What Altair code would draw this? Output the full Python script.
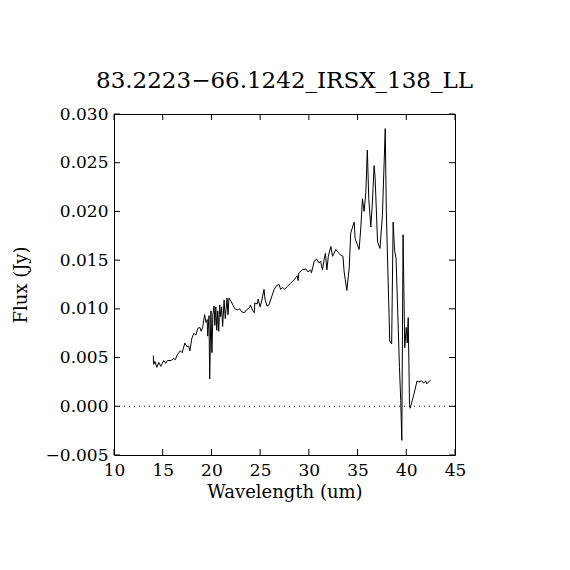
import altair as alt
import pandas as pd

wavelength = [
    14.03, 14.07, 14.2, 14.4, 14.6, 14.8, 15.1, 15.3, 15.5, 15.85, 16.1, 16.3, 16.5, 16.8, 17.0,
    17.27, 17.5, 17.65, 17.8, 17.97, 18.2, 18.4, 18.6, 18.8, 18.95, 19.1, 19.3, 19.45, 19.56, 19.62,
    19.75, 19.82, 19.95, 20.05, 20.15, 20.27, 20.35, 20.45, 20.55, 20.65, 20.75, 20.85, 20.95, 21.05,
    21.15, 21.3, 21.42, 21.6, 21.7, 21.8, 22.0, 22.2, 22.4, 22.68, 22.9, 23.1, 23.37, 23.6, 23.9,
    24.0, 24.25, 24.4, 24.45, 24.7, 24.8, 25.0, 25.15, 25.4, 25.5, 25.7, 25.9, 26.1, 26.44, 26.7,
    26.95, 27.1, 27.3, 27.5, 27.8, 28.1, 28.5, 28.8, 28.9, 28.97, 29.35, 29.7, 29.9, 30.2, 30.27,
    30.55, 30.8, 31.05, 31.2, 31.4, 31.55, 31.7, 31.85, 32.0, 32.26, 32.43, 32.77, 33.1, 33.28,
    33.5, 33.62, 33.9, 34.14, 34.3, 34.65, 34.75, 35.16, 35.33, 35.5, 35.67, 35.85, 36.0, 36.15,
    36.36, 36.5, 36.7, 36.8, 37.05, 37.3, 37.55, 37.84, 37.95, 38.3, 38.5, 38.65, 38.8, 38.95,
    39.3, 39.43, 39.54, 39.67, 39.84, 40.0, 40.1, 40.2, 40.33, 40.4, 40.8, 41.1, 41.3, 41.55,
    41.8, 42.0, 42.1, 42.5,
]
flux = [
    0.0052, 0.0043, 0.0046, 0.0040, 0.0045, 0.0041, 0.0047, 0.0044, 0.0047, 0.0047, 0.0049, 0.0048, 0.0053, 0.0057, 0.0055,
    0.0065, 0.0061, 0.0062, 0.0057, 0.0069, 0.0075, 0.0073, 0.0080, 0.0081, 0.0077, 0.0081, 0.0094, 0.0086, 0.0089, 0.0072,
    0.0093, 0.0028, 0.0098, 0.0055, 0.0094, 0.0103, 0.0083, 0.0102, 0.0078, 0.0098, 0.0077, 0.0104, 0.0092, 0.0102,
    0.0082, 0.0109, 0.0090, 0.0111, 0.0094, 0.0111, 0.0108, 0.0104, 0.0100, 0.0099, 0.0100, 0.0097, 0.0096, 0.0099, 0.0101,
    0.0104, 0.0098, 0.0096, 0.0106, 0.0105, 0.0110, 0.0102, 0.0108, 0.0120, 0.0110, 0.0103, 0.0104, 0.0110, 0.0120, 0.0124,
    0.0125, 0.0120, 0.0122, 0.0120, 0.0123, 0.0126, 0.0130, 0.0134, 0.0129, 0.0137, 0.0140, 0.0141, 0.0138, 0.0140, 0.0137,
    0.0149, 0.0151, 0.0147, 0.0149, 0.0140, 0.0150, 0.0157, 0.0140, 0.0154, 0.0164, 0.0154, 0.0161, 0.0157, 0.0155,
    0.0154, 0.0138, 0.0119, 0.0142, 0.0178, 0.0189, 0.0172, 0.0161, 0.0183, 0.0213, 0.0200, 0.0220, 0.0263, 0.0213,
    0.0184, 0.0205, 0.0247, 0.0235, 0.0169, 0.0162, 0.0196, 0.0285, 0.0200, 0.0067, 0.0064, 0.0189, 0.0160, 0.0152,
    0.0040, 0.0006, -0.0035, 0.0176, 0.0060, 0.0081, 0.0065, 0.0091, 0.0002, -0.0002, 0.0013, 0.0026, 0.0025, 0.0026,
    0.0024, 0.0026, 0.0023, 0.0027,
]

x_ticks = [10, 15, 20, 25, 30, 35, 40, 45]
y_ticks = [-0.005, 0.000, 0.005, 0.010, 0.015, 0.020, 0.025, 0.030]

title_text = "83.2223\u221266.1242_IRSX_138_LL"
x_title = "Wavelength (um)"
y_title = "Flux (Jy)"

W = 341
H = 341
TICK = 6
FONT = "DejaVu Serif"

df = pd.DataFrame({"wl": wavelength, "flux": flux})
xt = pd.DataFrame({"wl": x_ticks})
yt = pd.DataFrame({"flux": y_ticks})

xscale = alt.Scale(domain=[10, 45], nice=False, zero=False)
yscale = alt.Scale(domain=[-0.005, 0.030], nice=False, zero=False)

line = alt.Chart(df).mark_line(color="black", strokeWidth=1).encode(
    x=alt.X("wl:Q", scale=xscale,
            axis=alt.Axis(values=x_ticks, format="d", title=x_title, ticks=False, domain=False,
                          grid=False, labelPadding=7, titleY=42, titleBaseline="alphabetic",
                          labelFlush=False)),
    y=alt.Y("flux:Q", scale=yscale,
            axis=alt.Axis(values=y_ticks, format=".3f", title=y_title, ticks=False, domain=False,
                          grid=False, labelPadding=6, titleX=-93, titleY=170.5,
                          titleBaseline="middle", titleAngle=270, labelFlush=False)),
)

zero = alt.Chart(pd.DataFrame({"flux": [0.0]})).mark_rule(
    color="black", strokeWidth=1, strokeDash=[1, 4]
).encode(y=alt.Y("flux:Q", scale=yscale))

xb = alt.Chart(xt).mark_rule(color="black", strokeWidth=1).encode(
    x=alt.X("wl:Q", scale=xscale), y=alt.value(H), y2=alt.value(H - TICK))
xtp = alt.Chart(xt).mark_rule(color="black", strokeWidth=1).encode(
    x=alt.X("wl:Q", scale=xscale), y=alt.value(0), y2=alt.value(TICK))
yl = alt.Chart(yt).mark_rule(color="black", strokeWidth=1).encode(
    y=alt.Y("flux:Q", scale=yscale), x=alt.value(0), x2=alt.value(TICK))
yr = alt.Chart(yt).mark_rule(color="black", strokeWidth=1).encode(
    y=alt.Y("flux:Q", scale=yscale), x=alt.value(W - TICK), x2=alt.value(W))

chart = alt.layer(zero, xb, xtp, yl, yr, line).properties(
    width=W, height=H,
    title=alt.TitleParams(title_text, font=FONT, fontSize=23, fontWeight="normal",
                          anchor="middle", baseline="alphabetic", offset=24, dy=30, color="black"),
    autosize=alt.AutoSizeParams(type="none"),
    padding={"left": 106, "top": 106, "right": 100, "bottom": 100},
    background="white",
).configure_view(
    stroke="black", strokeWidth=1
).configure_axis(
    labelFont=FONT, labelFontSize=17, labelColor="black",
    titleFont=FONT, titleFontSize=18, titleFontWeight="normal", titleColor="black",
)

chart.save("out.html", embed_options={"renderer": "svg", "actions": False})
